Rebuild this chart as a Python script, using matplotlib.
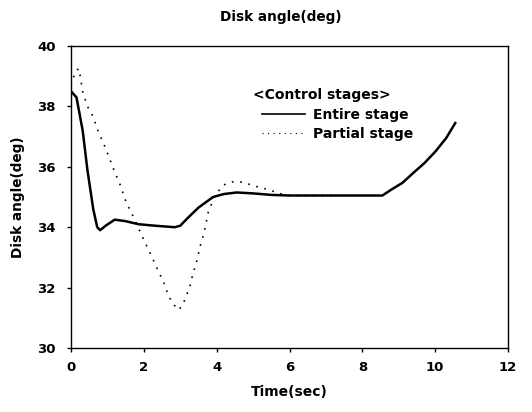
import matplotlib
matplotlib.use('Agg')
import matplotlib.pyplot as plt

plt.rcParams['font.family'] = ['DejaVu Sans']
plt.rcParams['font.weight'] = 'bold'

# Entire stage (solid)
entire_t = [0, 0.15, 0.32, 0.45, 0.61, 0.72, 0.8, 0.95, 1.2, 1.5, 1.85, 2.3,
            2.85, 3.0, 3.2, 3.5, 3.9, 4.2, 4.55, 5.0, 5.5, 6.0, 7.0, 8.0,
            8.55, 8.8, 9.1, 9.4, 9.7, 10.0, 10.3, 10.55]
entire_v = [38.5, 38.3, 37.2, 35.9, 34.6, 34.0, 33.9, 34.05, 34.25, 34.2, 34.1, 34.05,
            34.0, 34.05, 34.3, 34.65, 35.0, 35.1, 35.15, 35.12, 35.07, 35.05, 35.05, 35.05,
            35.05, 35.25, 35.47, 35.8, 36.12, 36.5, 36.95, 37.45]

# Partial stage (dotted)
partial_t = [0, 0.08, 0.15, 0.22, 0.32, 0.45, 0.6, 0.75, 0.93, 1.18, 1.35, 1.51,
             1.71, 2.0, 2.22, 2.4, 2.54, 2.67, 2.79, 2.95, 3.07, 3.15, 3.25, 3.34,
             3.45, 3.54, 3.65, 3.77, 3.96, 4.19, 4.42, 4.65, 4.82, 5.05, 5.47, 5.7,
             6.0, 6.5, 7.2]
partial_v = [38.7, 39.0, 39.2, 39.25, 38.5, 38.0, 37.68, 37.16, 36.67, 35.89, 35.4, 34.84,
             34.35, 33.58, 33.02, 32.53, 32.2, 31.75, 31.48, 31.26, 31.42, 31.7, 31.98, 32.42,
             32.86, 33.35, 33.8, 34.51, 35.07, 35.4, 35.5, 35.5, 35.45, 35.36, 35.23, 35.12,
             35.05, 35.05, 35.05]

xticks = [0, 2, 4, 6, 8, 10, 12]
yticks = [30, 32, 34, 36, 38, 40]

fig = plt.figure(figsize=(5.32, 4.12), dpi=100)
ax = fig.add_axes([0.1335, 0.1553, 0.8215, 0.733])

ax.plot(entire_t, entire_v, color='black', lw=1.8, label='Entire stage')
ax.plot(partial_t, partial_v, color='black', lw=1.2, linestyle=(0, (1, 4)),
        label='Partial stage')

ax.set_xlim(0, 12)
ax.set_ylim(30, 40)
ax.set_xticks(xticks)
ax.set_yticks(yticks)
ax.tick_params(direction='out', length=3, width=1, labelsize=9.5)
ax.tick_params(axis='x', pad=6)
ax.tick_params(axis='y', pad=8)
for lab in ax.get_xticklabels() + ax.get_yticklabels():
    lab.set_fontweight('bold')
for s in ax.spines.values():
    s.set_linewidth(1.0)

ax.set_title('Disk angle(deg)', fontsize=9.8, fontweight='bold', pad=18, x=0.48)
ax.set_xlabel('Time(sec)', fontsize=10, fontweight='bold', labelpad=8)
ax.set_ylabel('Disk angle(deg)', fontsize=9.8, fontweight='bold', labelpad=9)

ax.text(0.4165, 0.838, '<Control stages>', transform=ax.transAxes,
        fontsize=10, fontweight='bold', ha='left', va='center')
leg = ax.legend(loc='upper left', bbox_to_anchor=(0.437, 0.795), frameon=False,
                fontsize=10, handlelength=3.1, handletextpad=0.55,
                labelspacing=0.36, borderaxespad=0, borderpad=0)
for t in leg.get_texts():
    t.set_fontweight('bold')
leg.get_lines()[0].set_linewidth(1.2)
leg.get_lines()[1].set_linewidth(0.8)

fig.savefig('out.png', dpi=100)
